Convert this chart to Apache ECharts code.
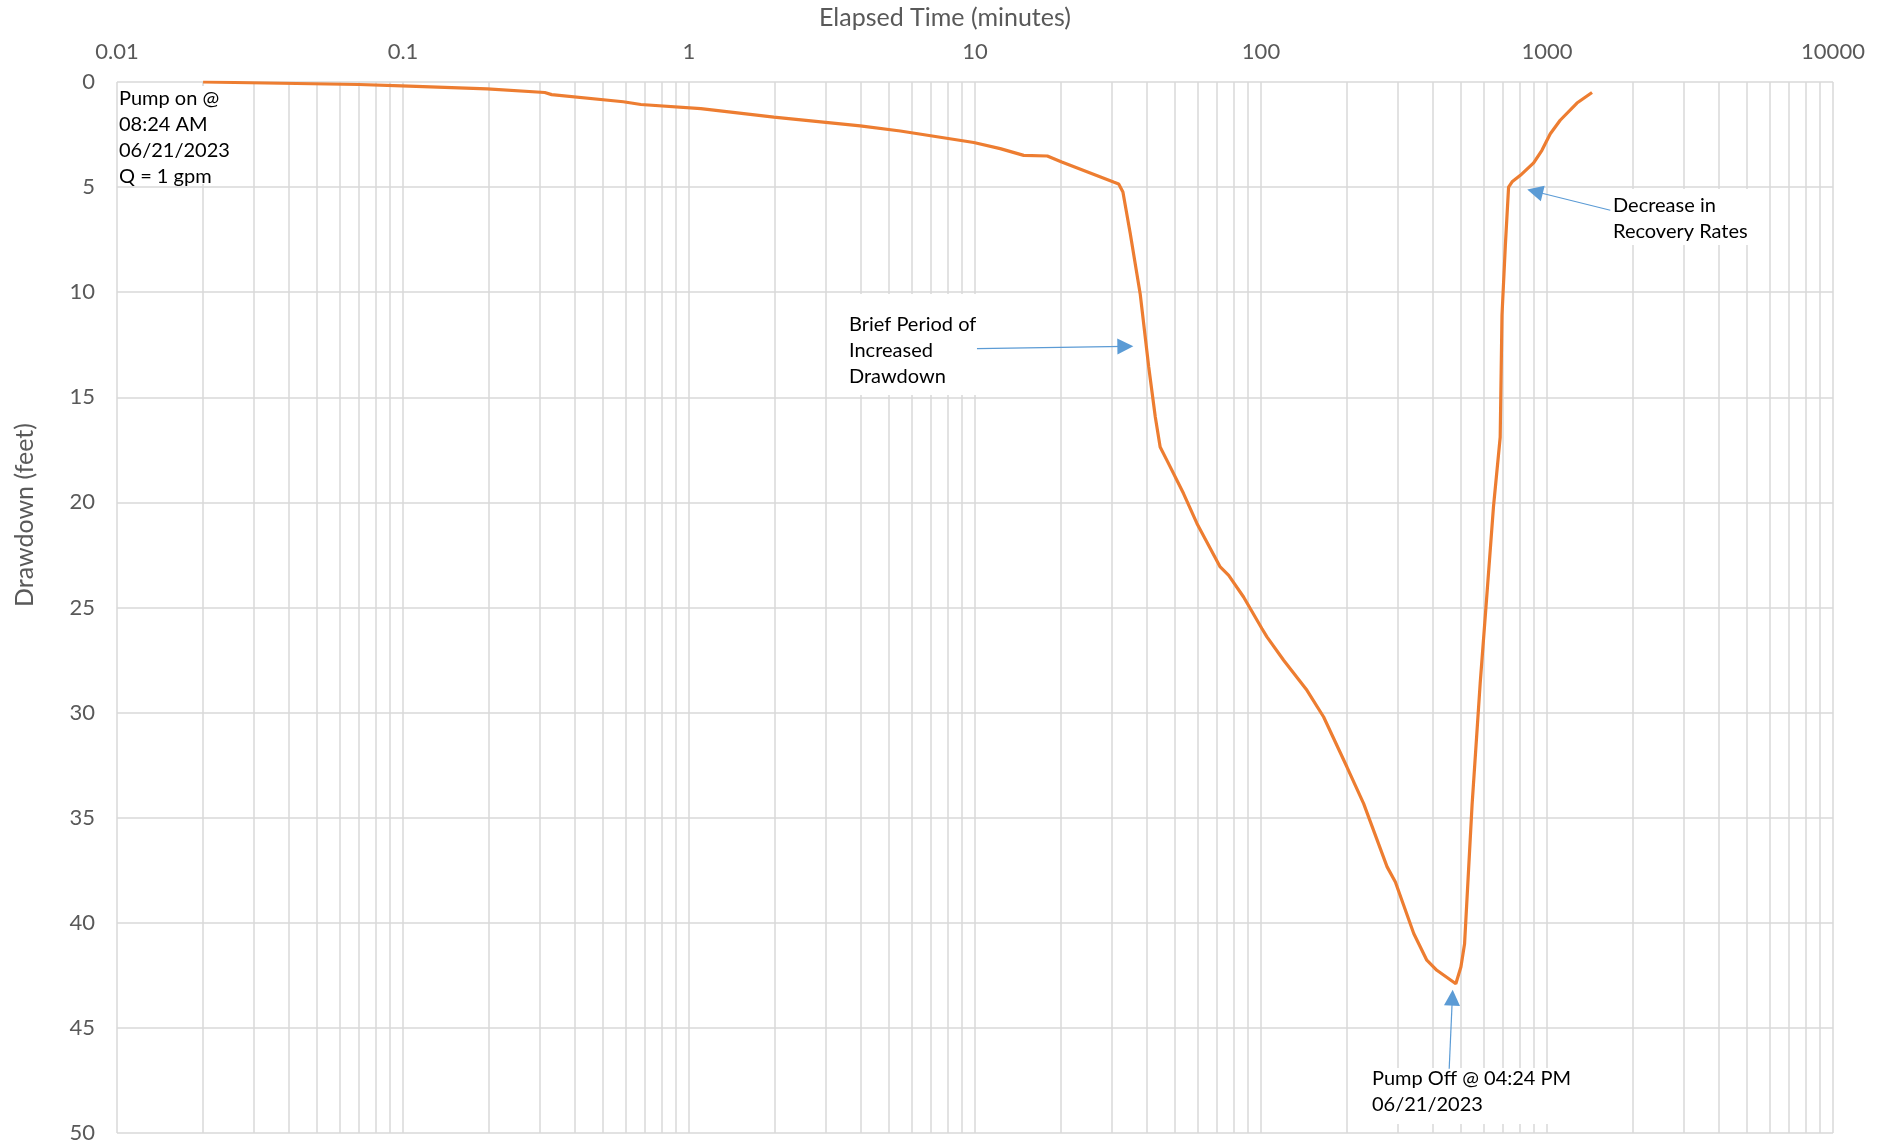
<!DOCTYPE html>
<html>
<head>
<meta charset="utf-8">
<title>Drawdown vs Elapsed Time</title>
<script src="https://cdn.jsdelivr.net/npm/echarts@6/dist/echarts.min.js"></script>
<style>
  html, body { margin: 0; padding: 0; background: #ffffff; }
  #chart { width: 1884px; height: 1145px; }
</style>
</head>
<body>
<div id="chart"></div>
<script>
// Elapsed time since pump start (minutes) and drawdown (feet)
const elapsedMinutes = [
  0.02, 0.07, 0.099, 0.197, 0.313, 0.331, 0.589, 0.679, 1.1,
  1.98, 3.97, 5.48, 9.9, 12.25, 14.8, 17.9, 20.1, 30.5, 31.8,
  32.9, 34.9, 37.8, 40.5, 42.7, 44.4, 46.9, 53.6, 59.7, 72.0, 77.1,
  86.9, 100.7, 104.9, 120, 144.8, 165.6, 199.8, 228.5, 276, 295,
  342, 380, 412, 480,
  500, 515, 547, 584, 614, 650, 686, 696, 715, 734, 755, 807, 898,
  960, 1027, 1112, 1273, 1437
];
const drawdownFeet = [
  0.0, 0.12, 0.18, 0.33, 0.50, 0.60, 0.94, 1.07, 1.27,
  1.67, 2.09, 2.33, 2.88, 3.17, 3.49, 3.52, 3.81, 4.76, 4.85,
  5.23, 7.21, 10.07, 13.56, 15.94, 17.36, 18.0, 19.58, 21.0, 23.07, 23.47,
  24.5, 26.0, 26.4, 27.51, 28.94, 30.21, 32.59, 34.33, 37.34, 38.06,
  40.51, 41.78, 42.26, 42.9,
  42.1, 41.0, 34.4, 28.6, 24.7, 20.2, 16.9, 11.1, 7.8, 5.0, 4.75, 4.44, 3.85,
  3.25, 2.46, 1.82, 1.0, 0.5
];

// Log-axis tick labels, one per decade
const timeTickLabels = ['0.01', '0.1', '1', '10', '100', '1000', '10000'];
// Minor vertical gridlines (2..9 within each decade)
const minorMultipliers = [2, 3, 4, 5, 6, 7, 8, 9];
const decadeStarts = [0.01, 0.1, 1, 10, 100, 1000];

// Annotation arrows: [start time, start drawdown] -> [head time, head drawdown]
const arrowIncreased = [[10.16, 12.68], [33.55, 12.58]];
const arrowRecovery = [[1665, 6.10], [907.8, 5.21]];
const arrowPumpOff = [[455, 46.94], [466.7, 43.56]];

const GRID_COLOR = '#d9d9d9';
const TEXT_GREY = '#595959';
const ARROW_BLUE = '#5b9bd5';
const FONT = 'Lato, "Open Sans", sans-serif';

const minorGridData = [];
decadeStarts.forEach(function (d) {
  minorMultipliers.forEach(function (m) {
    minorGridData.push({ xAxis: +(d * m).toPrecision(6) });
  });
});

const seriesData = elapsedMinutes.map(function (t, i) { return [t, drawdownFeet[i]]; });

function arrowItem(a) {
  return [{ coord: a[0] }, { coord: a[1] }];
}

// White-filled callout box with its text
function callout(box, textLeft, textTop, text) {
  return [
    {
      type: 'rect', z: 2, silent: true,
      shape: { x: box[0], y: box[1], width: box[2], height: box[3] },
      style: { fill: '#ffffff' }
    },
    {
      type: 'text', z: 4, left: textLeft, top: textTop,
      style: { text: text, fill: '#000000', font: '20px ' + FONT, lineHeight: 26 }
    }
  ];
}

const chart = echarts.init(document.getElementById('chart'), null, { renderer: 'canvas' });

chart.setOption({
  animation: false,
  backgroundColor: '#ffffff',
  grid: { left: 117, top: 82, width: 1716, height: 1051, containLabel: false },
  xAxis: {
    type: 'log',
    logBase: 10,
    min: 0.01,
    max: 10000,
    position: 'top',
    axisLine: { show: false },
    axisTick: { show: false },
    splitLine: { show: true, lineStyle: { color: GRID_COLOR, width: 1.5 } },
    axisLabel: {
      color: TEXT_GREY,
      fontFamily: FONT,
      fontSize: 22,
      margin: 19,
      formatter: function (v) {
        const idx = Math.round(Math.log10(v)) + 2;
        return timeTickLabels[idx] !== undefined ? timeTickLabels[idx] : '';
      }
    }
  },
  yAxis: {
    type: 'value',
    inverse: true,
    min: 0,
    max: 50,
    interval: 5,
    axisLine: { show: false },
    axisTick: { show: false },
    splitLine: { show: true, lineStyle: { color: GRID_COLOR, width: 1.5 } },
    axisLabel: {
      color: TEXT_GREY,
      fontFamily: FONT,
      fontSize: 22,
      margin: 22
    }
  },
  series: [
    {
      // minor gridlines for the log time axis
      type: 'line',
      data: [],
      silent: true,
      markLine: {
        silent: true,
        z: 1,
        symbol: ['none', 'none'],
        label: { show: false },
        lineStyle: { color: GRID_COLOR, width: 1.5, type: 'solid' },
        emphasis: { disabled: true },
        data: minorGridData
      }
    },
    {
      name: 'Drawdown',
      type: 'line',
      z: 3,
      data: seriesData,
      showSymbol: false,
      symbol: 'none',
      smooth: false,
      lineStyle: { color: '#ed7d31', width: 3.2 },
      itemStyle: { color: '#ed7d31' }
    },
    {
      // annotation arrows
      type: 'line',
      data: [],
      silent: true,
      markLine: {
        silent: true,
        z: 6,
        symbol: ['none', 'triangle'],
        symbolSize: 16,
        label: { show: false },
        lineStyle: { color: ARROW_BLUE, width: 1.2, type: 'solid' },
        itemStyle: { color: ARROW_BLUE },
        emphasis: { disabled: true },
        data: [arrowItem(arrowIncreased), arrowItem(arrowRecovery), arrowItem(arrowPumpOff)]
      }
    }
  ],
  graphic: [
    {
      type: 'text', left: 819, top: 5,
      style: { text: 'Elapsed Time (minutes)', fill: TEXT_GREY, font: '25px ' + FONT }
    },
    {
      type: 'text', x: 12, y: 515, rotation: Math.PI / 2,
      style: { text: 'Drawdown (feet)', fill: TEXT_GREY, font: '25px ' + FONT, align: 'center', verticalAlign: 'top' }
    }
  ]
    .concat(callout([118, 86, 114, 98], 119, 86, 'Pump on @\n08:24 AM\n06/21/2023\nQ = 1 gpm'))
    .concat(callout([845, 294, 132, 101], 849, 312, 'Brief Period of\nIncreased\nDrawdown'))
    .concat(callout([1609, 189, 143, 56], 1613, 193, 'Decrease in\nRecovery Rates'))
    .concat(callout([1367, 1068, 205, 56], 1372, 1066, 'Pump Off @ 04:24 PM\n06/21/2023'))
});
</script>
</body>
</html>
